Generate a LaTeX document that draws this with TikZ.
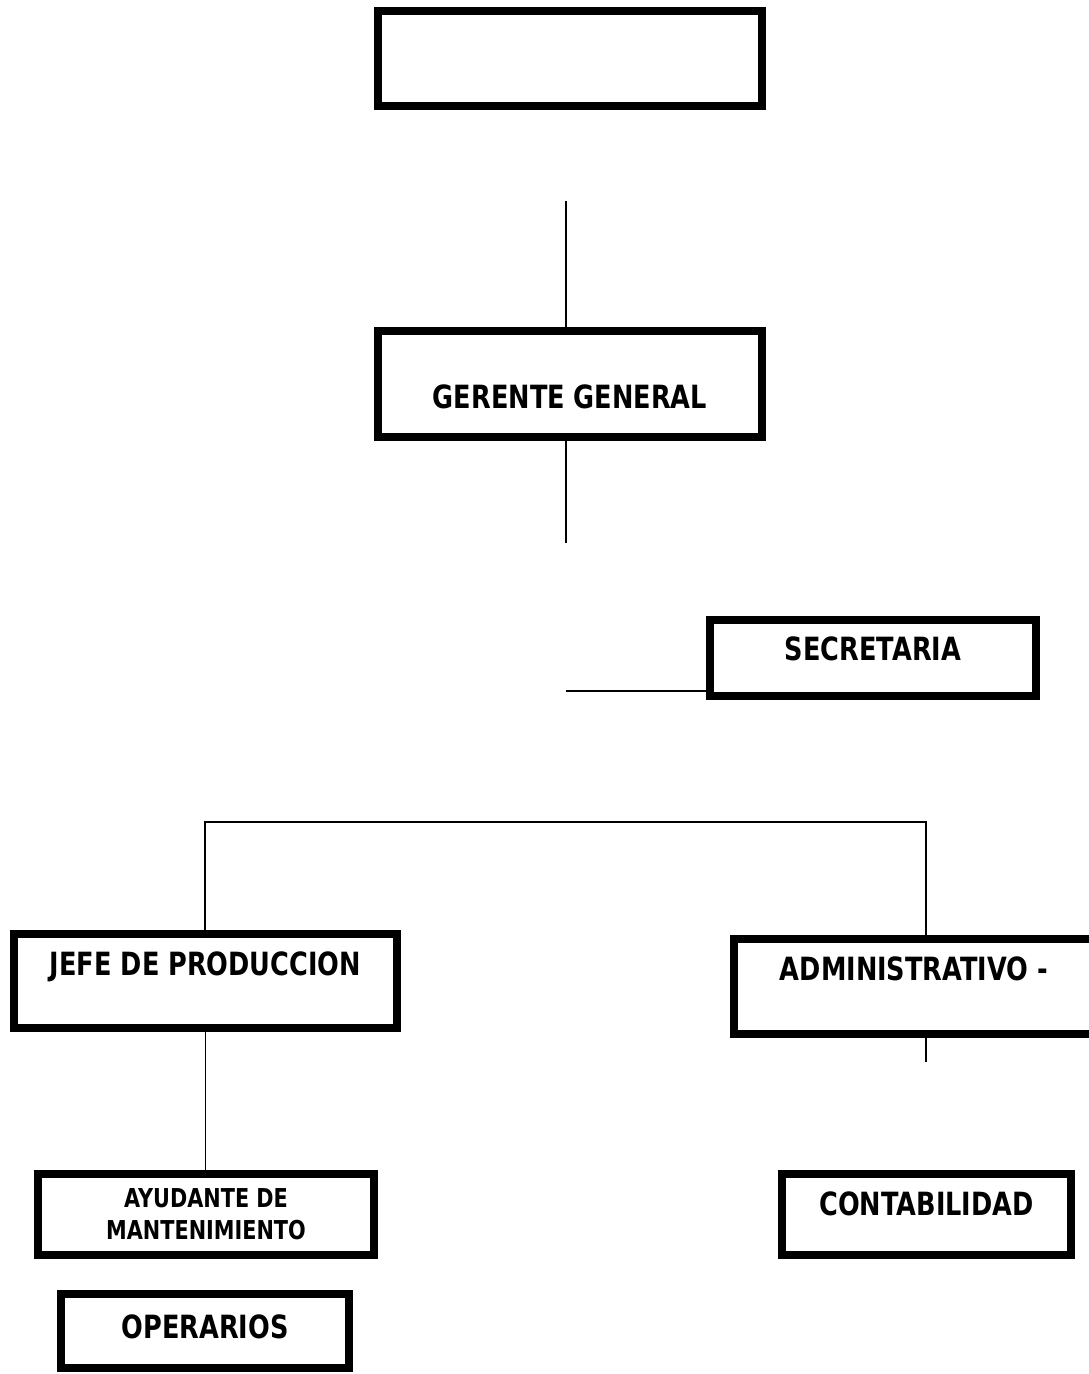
\documentclass[tikz,border=0pt]{standalone}
\usepackage{fontspec}
\setmainfont[FakeStretch=0.8]{DejaVu Sans}
\usepackage{tikz}
\usetikzlibrary{positioning,calc}
\tikzset{
  orgbox/.style={rectangle, draw=black, line width=8pt, fill=white, align=center,
                 inner sep=0pt, font=\fontsize{32}{38}\selectfont\bfseries},
  smallbox/.style={orgbox, font=\fontsize{26}{32}\selectfont\bfseries},
  link/.style={draw=black, line width=1.6pt},
}
\begin{document}
\begin{tikzpicture}[x=1pt, y=-1pt]
\useasboundingbox (0,0) rectangle (1088,1374);
% boxes
\node[orgbox, minimum width=384pt, minimum height=95pt] (top) at (570,58.5) {};
\node[orgbox, minimum width=384pt, minimum height=106pt, text height=49pt, text depth=0pt] (gerente) at (570,384) {GERENTE GENERAL};
\node[orgbox, minimum width=326pt, minimum height=76pt, text height=23pt, text depth=18pt] (secre) at (873,658) {SECRETARIA};
\node[orgbox, minimum width=383pt, minimum height=94pt, text height=23pt, text depth=34pt] (jefe) at (205.5,981) {JEFE DE PRODUCCION};
\node[orgbox, minimum width=360pt, minimum height=95pt, text height=23pt, text depth=35pt] (admin) at (914,986.5) {ADMINISTRATIVO -};
\node[smallbox, minimum width=336pt, minimum height=81pt] (ayud) at (206,1214.5) {AYUDANTE DE\\MANTENIMIENTO};
\node[orgbox, minimum width=288pt, minimum height=74pt, text height=23pt, text depth=8pt] (oper) at (205,1331) {OPERARIOS};
\node[orgbox, minimum width=289pt, minimum height=81pt, text height=23pt, text depth=21pt] (conta) at (926.5,1214.5) {CONTABILIDAD};
% free ends of the connectors
\coordinate (gtop) at (566,201);
\coordinate (gbot) at (566,543);
\coordinate (sleft) at (566,691);
\coordinate (busL) at (205,822);
\coordinate (busR) at (926,822);
\coordinate (abot) at (926,1062);
% connectors
\draw[link] (gtop) -- (gtop |- gerente.north);
\draw[link] (gbot |- gerente.south) -- (gbot);
\draw[link] (sleft) -- (sleft -| secre.west);
\draw[link] (busL |- jefe.north) -- (busL) -- (busR) -- (busR |- admin.north);
\draw[link] (jefe.south) -- (jefe.south |- ayud.north);
\draw[link] (abot |- admin.south) -- (abot);
\end{tikzpicture}
\end{document}
